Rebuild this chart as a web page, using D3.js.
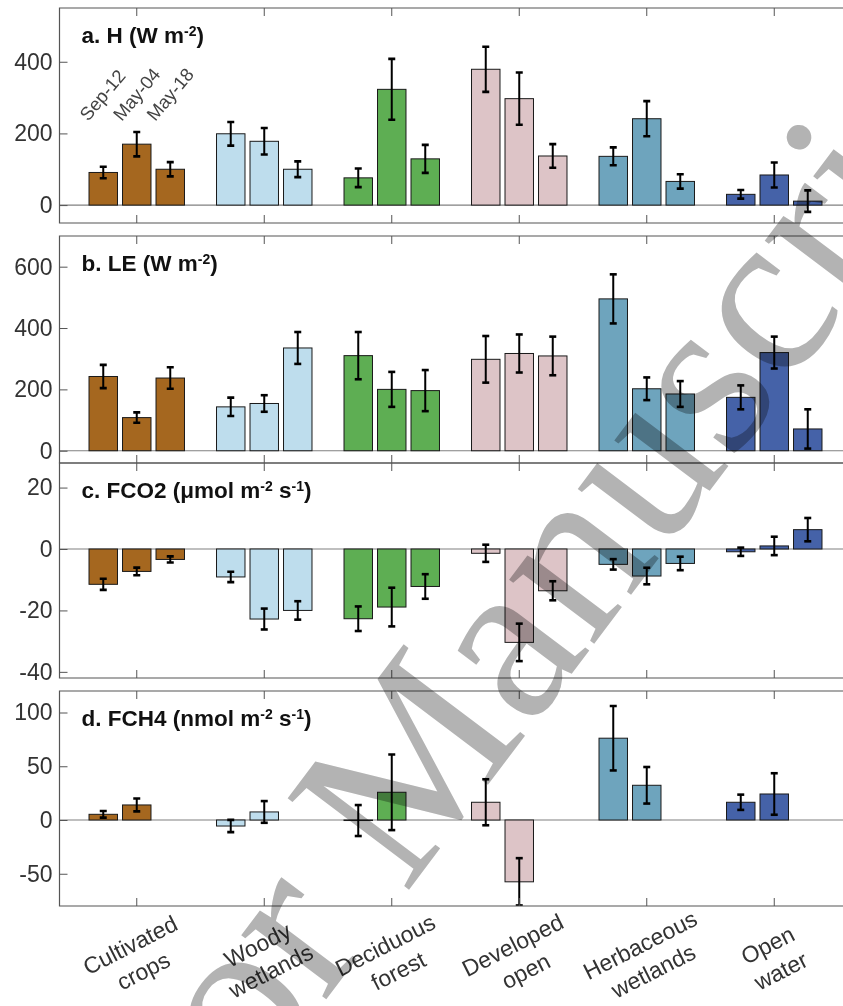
<!DOCTYPE html>
<html lang="en">
<head>
<meta charset="UTF-8">
<title>Fluxes by land cover</title>
<script src="https://cdn.jsdelivr.net/npm/d3@7"></script>
<style>
  body { margin: 0; background: #fff; }
  svg { display: block; font-family: "Liberation Sans", Arial, Helvetica, sans-serif; }
</style>
</head>
<body>
<script>
// ---- data ----
const categories = ['Cultivated crops', 'Woody wetlands', 'Deciduous forest', 'Developed open', 'Herbaceous wetlands', 'Open water']
const categoryLines = [['Cultivated', 'crops'], ['Woody', 'wetlands'], ['Deciduous', 'forest'], ['Developed', 'open'], ['Herbaceous', 'wetlands'], ['Open', 'water']]
const dates = ['Sep-12', 'May-04', 'May-18']
const colours = ['#A5671F', '#BEDDED', '#5EAE53', '#DDC4C7', '#6EA4BD', '#4562A8']

// a. sensible heat H (W m-2), one row per land cover, one value per date
const hMean = [[91, 170, 100], [199, 178, 100], [76, 323, 129], [379, 297, 137], [136, 241, 66], [30, 84, 11]]
const hErr = [[16, 34, 20], [33, 37, 22], [26, 85, 39], [63, 73, 33], [25, 49, 20], [12, 35, 30]]

// b. latent heat LE (W m-2)
const leMean = [[242, 108, 237], [143, 154, 335], [310, 200, 196], [298, 317, 309], [495, 202, 185], [174, 320, 71]]
const leErr = [[38, 17, 35], [30, 27, 52], [77, 57, 67], [76, 62, 63], [80, 37, 42], [39, 52, 64]]

// c. FCO2 (umol m-2 s-1)
const co2Mean = [[-11.5, -7.3, -3.4], [-9.1, -22.8, -20.0], [-22.7, -18.9, -12.2], [-1.4, -30.4, -13.6], [-5.0, -8.8, -4.7], [-0.9, 1.0, 6.3]]
const co2Err = [[1.8, 1.25, 1.0], [1.7, 3.4, 3.0], [4.0, 6.3, 4.0], [2.8, 6.1, 3.1], [1.7, 2.7, 2.2], [1.35, 3.0, 3.8]]

// d. FCH4 (nmol m-2 s-1), no May-18 values
const ch4Mean = [[5.3, 14.0, null], [-5.6, 7.5, null], [-0.5, 25.8, null], [16.5, -57.5, null], [76.1, 32.3, null], [16.5, 24.2, null]]
const ch4Err = [[3.1, 6.0, null], [5.7, 10.1, null], [14.4, 35.2, null], [21.4, 22.0, null], [30.0, 17.0, null], [7.1, 19.3, null]]

const panels = [
    { title: [['a. H (W m', 0], ['-2', 1], [')', 0]], mean: hMean, err: hErr, domain: [-50, 550], ticks: [0, 200, 400], top: 8, bottom: 223 },
    { title: [['b. LE (W m', 0], ['-2', 1], [')', 0]], mean: leMean, err: leErr, domain: [-40, 700], ticks: [0, 200, 400, 600], top: 236, bottom: 463 },
    { title: [['c. FCO2 (\u03bcmol m', 0], ['-2', 1], [' s', 0], ['-1', 1], [')', 0]], mean: co2Mean, err: co2Err, domain: [-42, 28], ticks: [-40, -20, 0, 20], top: 463, bottom: 678 },
    { title: [['d. FCH4 (nmol m', 0], ['-2', 1], [' s', 0], ['-1', 1], [')', 0]], mean: ch4Mean, err: ch4Err, domain: [-80, 120], ticks: [-50, 0, 50, 100], top: 691, bottom: 906 }
]

// ---- layout ----
const width = 843
const height = 1006
const left = 59.5
const right = 851

const svg = d3.select('body').append('svg')
    .attr('width', width)
    .attr('height', height)

const x = d3.scaleBand().domain(categories).range([73, 838])
const xSub = d3.scaleBand().domain([0, 1, 2]).range([-50.25, 50.25]).paddingInner(0.15).paddingOuter(0.075)
const cx = (i, j) => x(categories[i]) + x.bandwidth() / 2 + xSub(j) + xSub.bandwidth() / 2

const frameColour = '#555'

panels.forEach((p, k) => {
    const y = d3.scaleLinear().domain(p.domain).range([p.bottom, p.top])
    const g = svg.append('g').attr('class', 'panel')

    g.append('clipPath').attr('id', 'clip' + k)
        .append('rect')
        .attr('x', left).attr('y', p.top)
        .attr('width', right - left).attr('height', p.bottom - p.top)

    const plot = g.append('g').attr('clip-path', `url(#clip${k})`)

    // zero line
    plot.append('line')
        .attr('x1', left).attr('x2', right)
        .attr('y1', y(0)).attr('y2', y(0))
        .attr('stroke', '#808080').attr('stroke-width', 1.2)

    const rows = []
    p.mean.forEach((row, i) => row.forEach((v, j) => {
        if (v !== null) rows.push({ i, j, v, e: p.err[i][j] })
    }))

    plot.selectAll('rect.bar')
        .data(rows)
        .enter()
        .append('rect')
        .attr('class', 'bar')
        .attr('x', d => cx(d.i, d.j) - xSub.bandwidth() / 2)
        .attr('y', d => y(Math.max(d.v, 0)))
        .attr('width', xSub.bandwidth())
        .attr('height', d => Math.abs(y(d.v) - y(0)))
        .attr('fill', d => colours[d.i])
        .attr('stroke', '#1a1a1a')
        .attr('stroke-width', 1)

    // error bars
    const eb = plot.selectAll('g.err')
        .data(rows)
        .enter()
        .append('g')
        .attr('class', 'err')
        .attr('stroke', '#000')

    eb.append('line')
        .attr('x1', d => cx(d.i, d.j)).attr('x2', d => cx(d.i, d.j))
        .attr('y1', d => y(d.v - d.e)).attr('y2', d => y(d.v + d.e))
        .attr('stroke-width', 2)

    eb.selectAll('line.cap')
        .data(d => [d.v - d.e, d.v + d.e].map(t => ({ x: cx(d.i, d.j), t })))
        .enter()
        .append('line')
        .attr('class', 'cap')
        .attr('x1', c => c.x - 3.5).attr('x2', c => c.x + 3.5)
        .attr('y1', c => y(c.t)).attr('y2', c => y(c.t))
        .attr('stroke-width', 2.6)

    // y axis (ticks inside)
    const yAxis = d3.axisLeft(y)
        .tickValues(p.ticks)
        .tickSize(-8)
        .tickSizeOuter(0)
        .tickPadding(7)
        .tickFormat(d => String(d))

    const ya = g.append('g')
        .attr('transform', `translate(${left},0)`)
        .call(yAxis)
    ya.select('.domain').remove()
    ya.selectAll('line').attr('stroke', frameColour)
    ya.selectAll('text')
        .attr('fill', '#333')
        .style('font-size', '23px')
        .style('font-family', '"Liberation Sans", Arial, sans-serif')

    // x ticks, top and bottom, inside
    const xb = g.append('g')
        .attr('transform', `translate(0,${p.bottom})`)
        .call(d3.axisBottom(x).tickSize(-8).tickSizeOuter(0).tickFormat(''))
    const xt = g.append('g')
        .attr('transform', `translate(0,${p.top})`)
        .call(d3.axisTop(x).tickSize(-8).tickSizeOuter(0).tickFormat(''))
    xb.select('.domain').remove()
    xt.select('.domain').remove()
    g.selectAll('.tick line').attr('stroke', frameColour)

    // frame
    g.append('path')
        .attr('d', `M${right},${p.top}H${left}V${p.bottom}H${right}`)
        .attr('fill', 'none')
        .attr('stroke', frameColour)
        .attr('stroke-width', 1.2)

    // panel title
    const title = g.append('text')
        .attr('x', 81.5)
        .attr('y', p.top + 35)
        .attr('fill', '#111')
        .style('font-size', '22.5px')
        .style('font-weight', 'bold')
    p.title.forEach(([t, sup]) => {
        const s = title.append('tspan').text(t)
        if (sup) s.style('font-size', '14px').attr('baseline-shift', '7')
    })

    // date labels above the first group
    if (k === 0) {
        svg.selectAll('text.date')
            .data(dates)
            .enter()
            .append('text')
            .attr('class', 'date')
            .attr('transform', (d, j) => `translate(${cx(0, j) - 15},122) rotate(-50)`)
            .attr('fill', '#444')
            .style('font-size', '18.5px')
            .text(d => d)
    }
})

// category labels under the last panel
const lab = svg.selectAll('g.cat')
    .data(categoryLines)
    .enter()
    .append('g')
    .attr('class', 'cat')
    .attr('transform', (d, i) => `translate(${x(categories[i]) + x.bandwidth() / 2},958) rotate(-27)`)

lab.selectAll('text')
    .data(d => d)
    .enter()
    .append('text')
    .attr('text-anchor', 'middle')
    .attr('y', (d, i) => i === 0 ? -6.5 : 22.5)
    .attr('fill', '#333')
    .style('font-size', '23px')
    .text(d => d)

// watermark
const wm = svg.append('text')
    .attr('fill', '#b3b3b3')
    .style('mix-blend-mode', 'multiply')
    .style('font-family', '"Liberation Serif", "Times New Roman", serif')
    .style('font-size', '232px')
    .text('Author Manuscript')
const shift = wm.node().getSubStringLength(0, 7)
wm.attr('transform', `translate(405,895) rotate(-53) translate(${-shift},0)`)
</script>
</body>
</html>
